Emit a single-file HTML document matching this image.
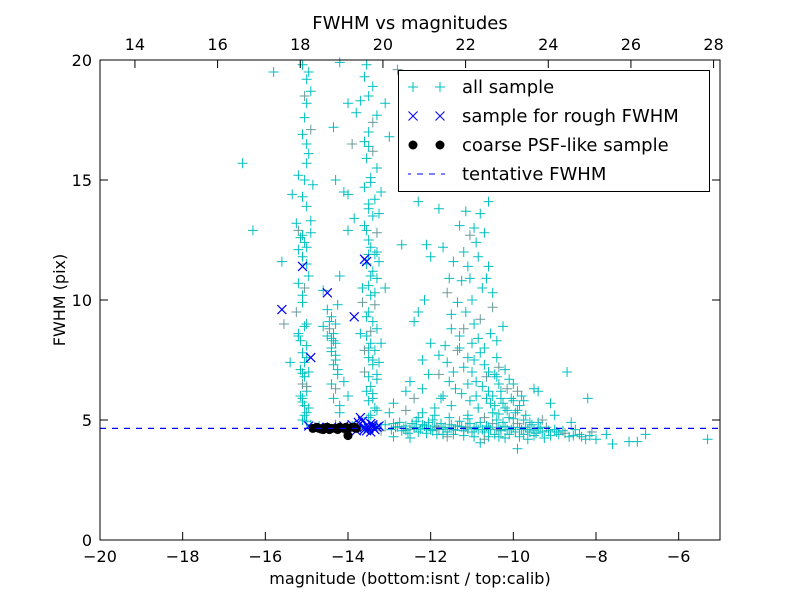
<!DOCTYPE html>
<html><head><meta charset="utf-8"><style>
body{margin:0;background:#fff;}
svg text{font-family:"DejaVu Sans","Liberation Sans",sans-serif;}
</style></head><body>
<svg id="chart" width="800" height="600" viewBox="0 0 800 600" xmlns="http://www.w3.org/2000/svg">
<rect x="0" y="0" width="800" height="600" fill="#fff"/>
<g id="marks"></g>
<g id="axes"></g>
</svg>
<script>
const allSample = [
[-16.55,15.7],[-16.3,12.9],[-15.8,19.5],[-15.6,11.6],[-15.55,9.0],[-15.4,7.4],[-15.35,14.4],
[-15.1,19.8],[-14.95,19.5],[-15.0,19.2],[-14.9,18.7],[-15.0,18.2],[-15.05,17.6],[-14.9,17.1],[-15.1,16.9],[-14.95,16.1],[-15.0,15.7],[-15.2,15.2],[-14.85,14.8],[-15.1,14.3],[-15.0,13.9],[-15.25,13.2],[-15.2,12.9],[-15.15,12.6],[-15.05,12.4],[-15.2,12.1],[-15.1,11.8],[-15.0,11.5],[-14.95,11.0],[-15.2,10.7],[-15.1,9.9],[-15.25,9.5],[-15.0,9.0],[-15.2,8.6],[-15.15,8.3],[-15.0,8.1],[-15.1,7.8],[-15.05,7.4],[-15.15,7.1],[-15.05,6.8],[-15.1,6.5],[-15.0,6.2],[-15.1,5.9],[-15.05,5.6],[-15.0,5.3],[-15.1,5.0],[-15.2,8.5],[-15.1,12.7],[-14.9,13.3],[-15.05,10.5],[-14.95,7.0],[-15.15,6.0],
[-13.6,19.3],[-13.4,18.9],[-13.7,18.3],[-13.3,17.7],[-13.5,17.0],[-13.6,16.6],[-13.4,16.2],[-13.55,15.9],[-13.3,15.5],[-13.45,15.1],[-13.6,14.7],[-13.35,14.2],[-13.5,13.8],[-13.4,13.5],[-13.6,13.1],[-13.3,12.8],[-13.5,12.5],[-13.45,12.2],[-13.35,11.9],[-13.55,11.5],[-13.4,11.2],[-13.3,10.9],[-13.5,10.6],[-13.45,10.2],[-13.35,9.8],[-13.5,9.5],[-13.4,9.1],[-13.3,8.8],[-13.55,8.5],[-13.45,8.2],[-13.35,7.9],[-13.5,7.6],[-13.4,7.3],[-13.6,7.0],[-13.3,6.7],[-13.45,6.4],[-13.4,6.1],[-13.5,5.8],[-13.35,5.5],[-13.45,5.2],[-13.2,14.5],[-13.25,11.6],[-13.65,9.9],[-13.3,6.9],[-13.2,8.2],[-13.1,18.2],[-13.0,16.8],[-13.1,10.5],
[-14.2,19.9],[-14.0,18.2],[-14.35,17.2],[-13.9,16.5],[-14.3,15.0],[-14.1,14.5],[-13.85,13.4],[-14.0,12.9],[-14.6,10.4],[-14.5,9.6],[-14.4,9.3],[-14.3,9.0],[-14.45,8.8],[-14.35,8.6],[-14.4,8.4],[-14.3,8.2],[-14.4,8.0],[-14.3,7.7],[-14.35,7.3],[-14.25,6.9],[-14.1,6.6],[-14.3,6.3],[-14.0,6.0],[-14.2,5.6],[-14.5,8.5],[-14.25,9.8],[-14.0,14.4],[-13.8,17.8],[-14.2,11.0],[-14.6,8.9],
[-12.8,19.6],[-12.7,12.3],[-12.5,6.6],[-12.3,14.1],[-12.1,12.3],[-12.0,11.8],[-11.9,17.9],[-11.8,13.8],[-11.7,12.2],[-11.6,10.3],[-11.5,9.4],[-11.4,15.0],[-11.3,13.1],[-11.2,12.0],[-11.1,11.4],[-11.05,10.9],[-11.0,10.0],[-11.15,9.5],[-11.2,8.8],[-11.3,8.0],[-11.1,7.6],[-11.0,7.0],[-10.9,6.6],[-10.95,9.0],[-10.85,8.4],[-10.8,7.8],[-10.7,7.3],[-10.65,6.8],[-10.6,6.2],[-10.55,5.7],[-10.5,5.3],[-10.45,6.9],[-10.4,7.6],[-10.35,6.5],[-10.3,5.9],[-10.2,5.5],[-10.15,6.3],[-10.1,5.1],[-10.0,5.8],[-9.9,5.4],[-9.8,6.0],[-9.7,5.2],[-9.6,4.9],[-11.4,6.3],[-11.6,7.4],[-11.8,6.9],[-12.0,8.2],[-12.2,7.5],[-12.4,9.1],[-11.75,5.9],[-11.5,5.6],[-11.25,6.1],[-10.75,10.5],[-10.6,11.4],[-10.5,9.7],[-10.9,12.4],[-11.0,14.8],[-10.8,13.6],[-11.3,16.2],[-11.2,17.1],[-11.1,15.7],[-10.6,14.1],[-10.9,17.2],[-11.4,18.0],[-11.7,16.3],[-9.5,6.3],[-9.1,5.7],[-9.0,5.2],[-9.4,6.2],[-8.7,7.0],[-8.2,5.9],[-10.3,4.6],[-12.6,5.4],[-12.9,5.7],[-12.3,5.1],
[-14.9,4.8],[-14.7,4.75],[-14.5,4.7],[-14.3,4.8],[-14.1,4.6],[-13.9,4.75],[-13.7,4.7],[-13.5,4.6],[-13.3,4.75],[-13.1,4.8],[-12.95,4.6],[-12.85,4.7],[-12.75,4.9],[-12.7,4.55],[-12.6,4.75],[-12.5,4.6],[-12.45,4.85],[-12.35,4.7],[-12.3,4.5],[-12.2,4.8],[-12.1,4.65],[-12.05,4.9],[-11.95,4.55],[-11.9,4.75],[-11.8,4.6],[-11.75,4.85],[-11.65,4.7],[-11.6,4.5],[-11.5,4.8],[-11.45,4.6],[-11.35,4.75],[-11.3,4.95],[-11.2,4.55],[-11.15,4.7],[-11.05,4.85],[-11.0,4.5],[-10.9,4.7],[-10.85,4.6],[-10.8,4.9],[-10.7,4.5],[-10.65,4.75],[-10.55,4.6],[-10.5,4.85],[-10.45,4.4],[-10.35,4.7],[-10.3,4.55],[-10.25,4.9],[-10.15,4.6],[-10.1,4.4],[-10.0,4.7],[-9.95,4.5],[-9.9,4.85],[-9.8,4.6],[-9.75,4.4],[-9.7,4.7],[-9.6,4.5],[-9.55,4.8],[-9.45,4.45],[-9.4,4.65],[-9.3,4.5],[-9.2,4.7],[-9.1,4.35],[-9.0,4.6],[-8.9,4.4],[-8.8,4.55],[-8.65,4.3],[-8.5,4.6],[-8.4,4.4],[-8.25,4.2],[-8.1,4.5],[-8.0,4.2],[-7.75,4.4],[-7.6,4.0],[-7.2,4.1],[-7.0,4.1],[-6.8,4.4],[-5.3,4.2],[-12.5,4.25],[-11.6,4.3],[-10.8,4.05],[-9.9,3.8],[-12.9,4.3],[-13.0,5.3],[-12.2,5.3],[-11.9,5.2],[-11.1,5.2],[-10.4,5.0],[-9.3,5.0],[-8.6,4.9],[-12.65,4.65],[-11.85,4.4],[-11.45,4.4],[-10.95,4.3],[-10.6,4.3],[-10.2,4.25],[-9.65,4.2],[-13.2,4.55],[-13.6,4.65],[-14.0,4.6]
];
const extraSample = [
[-12.8,4.72],[-12.6,4.58],[-12.4,4.68],[-12.25,4.62],[-12.15,4.75],[-12.0,4.6],[-11.85,4.7],[-11.7,4.62],[-11.55,4.68],[-11.4,4.58],[-11.25,4.72],[-11.1,4.62],[-10.95,4.68],[-10.75,4.6],[-10.6,4.7],[-10.4,4.62],[-10.2,4.72],[-10.05,4.6],[-9.85,4.68],[-9.65,4.6],[-9.5,4.58],[-9.35,4.7],[-9.15,4.55],[-8.95,4.5],[-8.75,4.45],[-8.55,4.35],[-8.35,4.3],[-8.15,4.35],[-12.9,4.85],[-12.55,4.45],[-12.1,4.45],[-11.7,4.4],[-11.2,4.35],[-10.7,4.2],[-10.35,4.3],[-9.85,4.3],[-9.5,4.35],[-9.25,4.25],[-12.35,4.95],[-11.95,5.0],[-11.55,5.1],[-11.1,5.05],[-10.7,5.1],[-10.35,5.25],[-10.0,5.05],[-9.75,5.0],[-9.4,4.9],
[-11.9,5.5],[-11.7,6.0],[-11.55,6.6],[-11.45,7.0],[-11.35,7.9],[-11.3,8.5],[-11.2,7.2],[-11.1,6.5],[-11.05,5.8],[-11.0,8.2],[-10.95,7.5],[-10.9,6.0],[-10.85,5.5],[-10.8,9.2],[-10.75,6.4],[-10.7,8.0],[-10.65,5.9],[-10.6,7.0],[-10.55,8.6],[-10.5,6.0],[-10.45,5.6],[-10.4,6.8],[-10.35,7.2],[-10.3,6.2],[-10.25,5.7],[-10.2,7.1],[-10.15,5.4],[-10.1,6.7],[-10.05,5.9],[-10.0,6.5],[-9.95,5.3],[-9.9,6.2],[-9.85,5.6],[-9.75,5.8],[-10.4,8.3],[-10.25,8.9],[-10.5,10.3],[-10.65,10.9],[-10.85,11.8],[-10.95,13.0],[-11.05,12.7],[-11.15,13.7],[-11.25,10.8],[-11.35,9.9],[-11.5,8.8],[-11.65,8.1],[-11.8,7.7],[-12.05,6.9],[-12.2,6.3],[-12.4,5.9],[-12.6,6.2],[-11.45,11.6],[-11.55,10.9],[-12.15,10.0],[-12.3,9.5],[-10.7,12.8],
[-13.55,19.8],[-13.5,18.5],[-13.4,17.4],[-13.5,16.4],[-13.45,14.9],[-13.5,14.0],[-13.55,12.9],[-13.5,11.9],[-13.45,11.0],[-13.35,10.3],[-13.55,9.3],[-13.45,8.7],[-13.5,8.0],[-13.4,7.5],[-13.5,6.8],[-13.55,6.2],[-13.4,5.9],[-13.3,5.4],[-13.5,5.1],[-13.25,7.4],[-13.6,7.9],[-13.7,8.6],[-13.65,10.5],[-13.3,12.0],[-13.25,13.6],
[-15.0,4.95],[-15.05,5.2],[-14.95,5.5],[-15.1,5.75],[-15.0,6.4],[-15.1,6.95],[-15.0,7.6],[-15.05,8.9],[-15.1,10.2],[-15.0,12.2],[-14.9,12.8],[-15.05,15.0],[-15.0,16.5],[-15.05,18.5],
[-14.4,7.85],[-14.35,8.3],[-14.45,9.1],[-14.3,7.5],[-14.25,7.1],[-14.4,6.5],[-14.35,5.9],[-14.2,5.3]
];
const roughX = [-15.6,-15.1,-14.9,-14.5,-13.85,-13.6,-13.55,-14.95,-14.7,-14.4,-14.1,-13.9,-13.75,-13.7,-13.6,-13.5,-13.45,-13.4,-13.35,-13.3,-13.25,-13.8,-13.65,-13.55,-13.6,-13.5,-13.4,-13.45];
const roughY = [9.6,11.4,7.6,10.3,9.3,11.7,11.6,4.75,4.7,4.7,4.75,4.8,4.9,5.1,4.6,4.75,4.5,4.8,4.6,4.7,4.75,4.55,4.95,4.55,4.7,4.65,4.7,4.85];
const psfX = [-14.85,-14.7,-14.6,-14.5,-14.4,-14.3,-14.2,-14.1,-14.0,-13.9,-13.8,-14.0,-14.65,-14.55,-14.75,-14.45,-14.25,-14.05,-13.85];
const psfY = [4.65,4.65,4.6,4.7,4.65,4.65,4.7,4.65,4.65,4.7,4.65,4.35,4.62,4.68,4.7,4.6,4.6,4.7,4.7];
const tentativeFwhm = 4.65;
const bottomTicks = [-20,-18,-16,-14,-12,-10,-8,-6];
const topTicks = [14,16,18,20,22,24,26,28];
const yTicks = [0,5,10,15,20];

const L=100,R=720,T=60,B=540;
const xs=v=>L+(v+20)/15*(R-L);
const ys=v=>B-(v/20)*(B-T);
const topOffset=33.155;
const xt=v=>xs(v-topOffset);
const NS='http://www.w3.org/2000/svg';
const marks=document.getElementById('marks');
const axes=document.getElementById('axes');
function mk(tag,attrs,parent){const e=document.createElementNS(NS,tag);for(const k in attrs)e.setAttribute(k,attrs[k]);parent.appendChild(e);return e;}
function plus(x,y,col,parent){return mk('path',{d:`M${x-5},${y}H${x+5}M${x},${y-5}V${y+5}`,stroke:col,'stroke-width':1,fill:'none'},parent);}
function cross(x,y,col,parent){return mk('path',{d:`M${x-4.5},${y-4.5}L${x+4.5},${y+4.5}M${x-4.5},${y+4.5}L${x+4.5},${y-4.5}`,stroke:col,'stroke-width':1.2,fill:'none'},parent);}

allSample.concat(extraSample).forEach((p,i)=>{
  const e=plus(xs(p[0]),ys(p[1]),i%9===4?'#6a9a9a':'#00bfbf',marks);
  
  
});
roughX.forEach((v,i)=>{
  const e=cross(xs(v),ys(roughY[i]),'#0000ff',marks);
  
  
});
psfX.forEach((v,i)=>{
  const e=mk('circle',{cx:xs(v),cy:ys(psfY[i]),r:4.5,fill:'#000'},marks);
  
  
});
const tl=mk('line',{x1:L,x2:R,y1:ys(tentativeFwhm),y2:ys(tentativeFwhm),stroke:'#0000ff','stroke-width':1.2,'stroke-dasharray':'6,6'},marks);



const frame=mk('rect',{x:L,y:T,width:R-L,height:B-T,fill:'none',stroke:'#000','stroke-width':1},axes);


bottomTicks.forEach(v=>{
  const x=xs(v);
  mk('line',{x1:x,x2:x,y1:B,y2:B-8,stroke:'#000'},axes);
  const t=mk('text',{x:x,y:B+22,'text-anchor':'middle','font-size':16},axes);
  t.textContent=(v<0?'\u2212'+(-v):v);
  
  
});
topTicks.forEach(v=>{
  const x=xt(v);
  mk('line',{x1:x,x2:x,y1:T,y2:T+8,stroke:'#000'},axes);
  const t=mk('text',{x:x,y:T-10,'text-anchor':'middle','font-size':16},axes);
  t.textContent=v;
  
  
});
yTicks.forEach(v=>{
  const y=ys(v);
  mk('line',{x1:L,x2:L+8,y1:y,y2:y,stroke:'#000'},axes);
  mk('line',{x1:R,x2:R-8,y1:y,y2:y,stroke:'#000'},axes);
  const t=mk('text',{x:L-8,y:y+6,'text-anchor':'end','font-size':16},axes);
  t.textContent=v;
  
  
});
</script>
<svg style="position:absolute;left:0;top:0" width="800" height="600">
<text x="410" y="29" text-anchor="middle" font-size="18">FWHM vs magnitudes</text>
<text x="410" y="584" text-anchor="middle" font-size="16">magnitude (bottom:isnt / top:calib)</text>
<text x="65" y="300" text-anchor="middle" font-size="16" transform="rotate(-90 65 300)">FWHM (pix)</text>
<g>
<rect x="398.5" y="70.5" width="311" height="121" fill="#fff" stroke="#000" stroke-width="1"/>
<g>
<path d="M408,87H418M413,82V92M435,87H445M440,82V92" stroke="#00bfbf" fill="none"/>
<text x="462" y="93" font-size="18">all sample</text></g>
<g>
<path d="M408.5,111.5L417.5,120.5M408.5,120.5L417.5,111.5M435.5,111.5L444.5,120.5M435.5,120.5L444.5,111.5" stroke="#0000ff" fill="none"/>
<text x="462" y="122" font-size="18">sample for rough FWHM</text></g>
<g>
<circle cx="413" cy="145" r="4.5" fill="#000"/><circle cx="440" cy="145" r="4.5" fill="#000"/>
<text x="462" y="151" font-size="18">coarse PSF-like sample</text></g>
<g>
<line x1="408" x2="445" y1="174" y2="174" stroke="#0000ff" stroke-dasharray="6,6" stroke-dashoffset="-9"/>
<text x="462" y="180" font-size="18">tentative FWHM</text></g>
</g>
</svg>
</body></html>
